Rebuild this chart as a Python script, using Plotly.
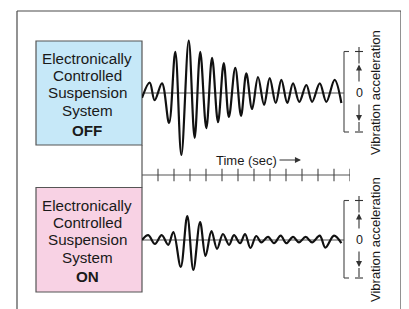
import plotly.graph_objects as go

# page body has an 8px margin; the figure is sized to fit inside the window
OFFSET = 8
W, H = 409 - OFFSET, 309 - OFFSET

# ---------------- data ----------------
# Turning points of the vibration traces: time (in time-tick units) and
# acceleration (relative units; +1 is roughly the "+" mark of the scale)
OFF_TIME = [0, 0.48, 0.79, 1.25, 1.69, 2.08, 2.46, 2.92, 3.29, 3.64,
            4.02, 4.38, 4.75, 5.11, 5.43, 5.83, 6.19, 6.52, 6.88, 7.25,
            7.63, 7.98, 8.36, 8.71, 9.08, 9.44, 9.83, 10.27, 10.63, 11.11,
            11.52, 12.04, 12.46]
OFF_ACCEL = [-0.12, 0.26, -0.18, 0.24, -0.75, 1.03, -1.55, 1.31, -1.12, 1.03,
             -0.88, 0.88, -0.73, 0.75, -0.60, 0.63, -0.57, 0.49, -0.40, 0.40,
             -0.30, 0.37, -0.25, 0.33, -0.25, 0.24, -0.22, 0.20, -0.22, 0.24,
             -0.22, 0.33, -0.25]

ON_TIME = [0, 0.39, 0.81, 1.23, 1.64, 1.96, 2.42, 2.83, 3.21, 3.63,
           3.97, 4.34, 4.69, 5.06, 5.44, 5.75, 6.13, 6.44, 6.78, 7.14,
           7.46, 7.88, 8.25, 8.67, 9.02, 9.44, 9.81, 10.23, 10.63, 11.11,
           11.46, 12.0, 12.46]
ON_ACCEL = [0, 0.12, -0.10, 0.12, -0.12, 0.20, -0.67, 0.60, -0.75, 0.45,
            -0.40, 0.22, -0.22, 0.15, -0.12, 0.12, -0.08, 0.15, -0.20, 0.10,
            -0.06, 0.08, -0.08, 0.11, -0.08, 0.08, -0.06, 0.08, -0.06, 0.11,
            -0.19, 0.11, -0.08]

TIME_TICKS = [1, 2, 3, 4, 5, 6, 7, 8, 9, 10, 11, 12, 13]
TIME_SPAN = [0, 13]
ZERO_SPAN = [0, 12.63]

BOX_LINES = ["Electronically", "Controlled", "Suspension", "System"]
STATES = ["OFF", "ON"]
Y_TITLE = "Vibration acceleration"
X_TITLE = "Time (sec)"
ZERO_LABEL = "0"

FONT = "Liberation Sans, Arial, Helvetica, sans-serif"
INK = "#1a1a1a"
FRAME = "#4a4a4a"


def px(x):
    return (x - OFFSET) / W


def py(y):
    return 1 - (y - OFFSET) / H


X_DOM = [px(142), px(350)]

fig = go.Figure()

# top trace (OFF)
fig.add_trace(go.Scatter(x=OFF_TIME, y=OFF_ACCEL, mode="lines",
                         line=dict(color="#111111", width=2.2, shape="spline", smoothing=1.0),
                         xaxis="x", yaxis="y", hoverinfo="skip"))
# bottom trace (ON)
fig.add_trace(go.Scatter(x=ON_TIME, y=ON_ACCEL, mode="lines",
                         line=dict(color="#111111", width=2.2, shape="spline", smoothing=1.0),
                         xaxis="x2", yaxis="y2", hoverinfo="skip"))
# time axis line + ticks
fig.add_trace(go.Scatter(x=TIME_SPAN, y=[0, 0], mode="lines",
                         line=dict(color="#555555", width=1.2),
                         xaxis="x3", yaxis="y3", hoverinfo="skip"))
fig.add_trace(go.Scatter(x=TIME_TICKS, y=[0] * len(TIME_TICKS), mode="markers",
                         marker=dict(symbol="line-ns", size=9,
                                     line=dict(color="#444444", width=1.1)),
                         xaxis="x3", yaxis="y3", hoverinfo="skip"))

ax_common = dict(visible=False, fixedrange=True, range=TIME_SPAN, domain=X_DOM)
fig.update_layout(
    width=W, height=H, margin=dict(l=0, r=0, t=0, b=0),
    paper_bgcolor="white", plot_bgcolor="rgba(0,0,0,0)", showlegend=False,
    xaxis=dict(**ax_common, anchor="y"),
    yaxis=dict(visible=False, fixedrange=True, domain=[py(160), py(30)],
               range=[-1.675, 1.575], anchor="x"),
    xaxis2=dict(**ax_common, anchor="y2"),
    yaxis2=dict(visible=False, fixedrange=True, domain=[py(290), py(190)],
                range=[-1.25, 1.25], anchor="x2"),
    xaxis3=dict(**ax_common, anchor="y3"),
    yaxis3=dict(visible=False, fixedrange=True, domain=[py(185), py(165)],
                range=[-10, 10], anchor="x3"),
)

shapes = []


def pline(x0, y0, x1, y1, color=FRAME, width=1.0, layer="above"):
    shapes.append(dict(type="line", xref="paper", yref="paper",
                       x0=px(x0), y0=py(y0), x1=px(x1), y1=py(y1),
                       line=dict(color=color, width=width), layer=layer))


# outer frame (open at the bottom)
pline(17, 11, 401, 11, width=1.2)
pline(17, 11, 17, 320, width=1.2)
pline(401, 11, 401, 320, width=1.2)

# state boxes
for (y0, y1, fill) in [(41, 145, "#c6e8f8"), (187.5, 292, "#f8d2e4")]:
    shapes.append(dict(type="rect", xref="paper", yref="paper",
                       x0=px(36), x1=px(142), y0=py(y0), y1=py(y1),
                       fillcolor=fill, line=dict(color="#555555", width=1.2), layer="below"))
# connecting vertical line between boxes
pline(142, 145, 142, 187.5, color="#555555", width=1.2)

# zero lines
for xr, yr in [("x", "y"), ("x2", "y2")]:
    shapes.append(dict(type="line", xref=xr, yref=yr, x0=ZERO_SPAN[0], x1=ZERO_SPAN[1],
                       y0=0, y1=0, line=dict(color="#8a8a8a", width=1.5), layer="below"))

annotations = []


def text(x, y, s, size, angle=0, bold=False):
    annotations.append(dict(xref="paper", yref="paper", x=px(x), y=py(y),
                            text=("<b>%s</b>" % s) if bold else s, showarrow=False,
                            xanchor="center", yanchor="middle", textangle=angle,
                            font=dict(family=FONT, size=size, color=INK)))


def arrow(x, yhead, ytail):
    annotations.append(dict(xref="paper", yref="paper", x=px(x), y=py(yhead),
                            ax=0, ay=ytail - yhead, text="", showarrow=True,
                            arrowhead=2, arrowsize=1.1, arrowwidth=1.1, arrowcolor="#333333"))


# box labels
for top, state in [(41, STATES[0]), (187.5, STATES[1])]:
    offs = [17.5, 34.5, 52, 69.5]
    for o, s in zip(offs, BOX_LINES):
        text(87, top + o, s, 15.2)
    text(87, top + 89, state, 15.2, bold=True)

# acceleration scales
for zero, plus, minus in [(93, 51.5, 132), (240, 200.5, 278)]:
    # bracket
    pline(344, plus, 344, minus, color="#444444", width=1.1)
    pline(344, plus, 349, plus, color="#444444", width=1.1)
    pline(344, minus, 349, minus, color="#444444", width=1.1)
    # plus sign and minus sign
    pline(355, plus, 363, plus, color="#333333", width=1.1)
    pline(359, plus - 4.5, 359, plus + 12, color="#333333", width=1.1)
    pline(355, minus, 363, minus, color="#333333", width=1.1)
    pline(359, minus - 10, 359, minus - 1, color="#333333", width=1.1)
    # arrows
    arrow(359, plus + 13, zero - 10)
    arrow(359, minus - 11, zero + 10)
    text(359.5, zero, ZERO_LABEL, 12.5)
    text(375.5, zero - 0.5, Y_TITLE, 13, angle=-90)

# time label and arrow
text(247, 160, X_TITLE, 13)
annotations.append(dict(xref="paper", yref="paper", x=px(301), y=py(160),
                        ax=-23, ay=0, text="", showarrow=True, arrowhead=2,
                        arrowsize=1.1, arrowwidth=1.1, arrowcolor="#333333"))

fig.update_layout(shapes=shapes, annotations=annotations)
fig.write_html("out.html")
